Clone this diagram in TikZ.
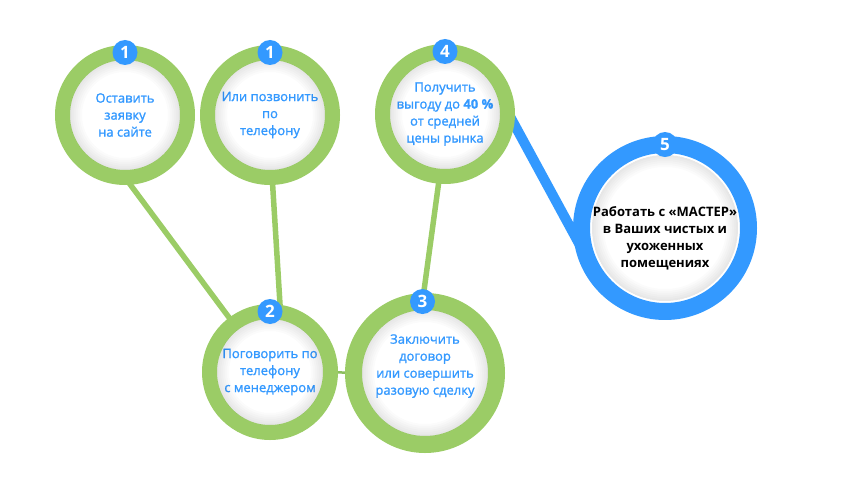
\documentclass[tikz,border=0pt]{standalone}
\usepackage{fontspec}
\setmainfont{Open Sans}
\newfontfamily\ringfont{Open Sans}[FakeBold=1.3]
\usetikzlibrary{backgrounds}
\definecolor{ringgreen}{RGB}{155,204,102}
\definecolor{ringblue}{RGB}{51,153,255}
\definecolor{thingreen}{RGB}{140,190,95}

\begin{document}
\begin{tikzpicture}[x=1pt,y=-1pt,line cap=butt,
  ring/.style={circle,draw=ringgreen,fill=white,line width=15pt,outer sep=0pt,inner sep=0pt,
    align=center,text=ringblue,font=\ringfont\fontsize{13}{17}\selectfont},
  bluering/.style={ring,draw=ringblue,line width=17pt,text=black,font=\bfseries\fontsize{13}{17}\selectfont},
  badge/.style={circle,fill=ringblue,text=white,inner sep=0pt,minimum size=25pt,
    font=\bfseries\fontsize{17}{17}\selectfont},
  link/.style={draw=ringgreen,line width=5.5pt},
  bluelink/.style={draw=ringblue,line width=10pt}]
  \useasboundingbox (0,0) rectangle (858,497);

  \node[ring,minimum size=125pt] (site) at (125,115) {Оставить\\заявку\\на сайте};
  \node[ring,minimum size=125pt] (call) at (270,115) {Или позвонить\\по\\телефону};
  \node[ring,minimum size=125pt] (save) at (445,114) {Получить\\выгоду до \textbf{40 \%}\\от средней\\цены рынка};
  \node[ring,minimum size=121pt] (talk) at (270,372) {Поговорить по\\телефону\\с менеджером};
  \node[ring,minimum size=143pt,line width=17pt] (deal) at (425,373) {Заключить\\договор\\или совершить\\разовую сделку\\\mbox{}};
  \node[bluering,minimum size=163pt] (work) at (665,228) {\mbox{}\\[14pt]Работать с «МАСТЕР»\\в Ваших чистых и\\ухоженных\\помещениях};

  \foreach \n/\r in {site/55,call/55,save/55,talk/53,deal/63,work/73}
    \foreach \w in {2,4,...,12}
      \draw[black,opacity=0.014,line width=\w pt] (\n.center) circle (\r-\w/2);

  \node[badge] (b1) at (site.north) {1};
  \node[badge] (b1p) at (call.north) {1};
  \node[badge] (b4) at (save.north) {4};
  \node[badge] (b2) at (talk.north) {2};
  \node[badge] (b3) at (deal.92) {3};
  \node[badge] (b5) at (work.north) {5};

  \begin{pgfonlayer}{background}
    \draw[link] (site.south) -- (talk.127);
    \draw[link] (call.272) -- (talk.80);
    \draw[link] (save.265) -- (deal.92);
    \draw[draw=thingreen,line width=2.5pt] (talk.east) -- (deal.west);
    \draw[bluelink] (save.2) -- (work.202);
  \end{pgfonlayer}
\end{tikzpicture}
\end{document}
